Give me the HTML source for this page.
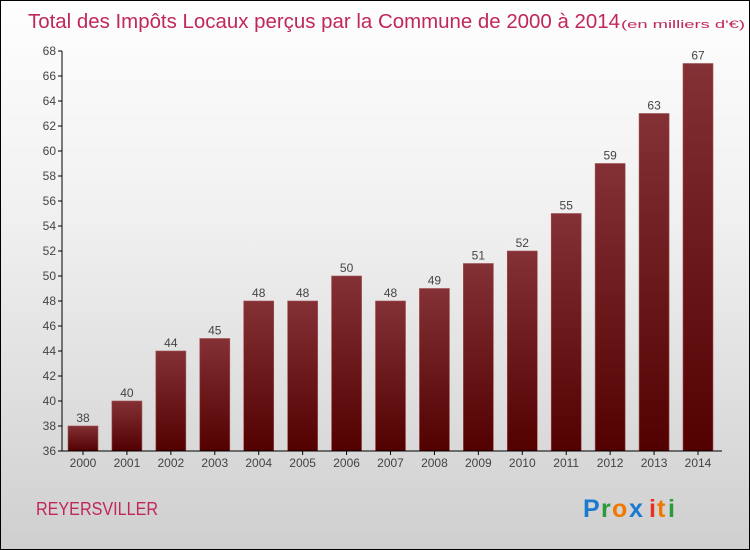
<!DOCTYPE html>
<html><head><meta charset="utf-8"><style>
body{margin:0}
#wrap{position:relative;width:748px;height:548px;border:1px solid #000;background:linear-gradient(#fefefe,#f0f0f0 40%,#cfcfcf);overflow:hidden;font-family:"Liberation Sans",sans-serif}
</style></head><body>
<div id="wrap">
<svg id="chart" width="748" height="548">
<defs><linearGradient id="bg" x1="0" y1="0" x2="0" y2="1"><stop offset="0" stop-color="#843136"/><stop offset="1" stop-color="#520000"/></linearGradient></defs>
<text x="27" y="27" font-size="20" fill="#c0275a" textLength="592" lengthAdjust="spacingAndGlyphs">Total des Impôts Locaux perçus par la Commune de 2000 à 2014</text>
<text x="620" y="27" font-size="11" fill="#c0275a" textLength="124" lengthAdjust="spacingAndGlyphs">(en milliers d'€)</text>
<text x="35" y="514" font-size="18" fill="#c0275a" textLength="122" lengthAdjust="spacingAndGlyphs">REYERSVILLER</text>
<g font-size="25" font-weight="bold">
<text x="582" y="516" fill="#1a7ad0">P</text><text x="600" y="516" fill="#2a9a3a">r</text><text x="611" y="516" fill="#f07800">o</text><text x="628" y="516" fill="#1a7ad0">x</text><text x="648" y="516" fill="#e83020">i</text><text x="656" y="516" fill="#f07800">t</text><text x="667" y="516" fill="#2a9a3a">i</text>
</g>
<g id="g"></g>
</svg>
</div>
<script>
const years=["2000","2001","2002","2003","2004","2005","2006","2007","2008","2009","2010","2011","2012","2013","2014"];
const values=[38,40,44,45,48,48,50,48,49,51,52,55,59,63,67];
const yTicks=[36,38,40,42,44,46,48,50,52,54,56,58,60,62,64,66,68];
const NS="http://www.w3.org/2000/svg",g=document.getElementById('g');
const y0=36,y1=68,pTop=50,pBot=450,ax=61,ax2=721;
const ys=v=>pBot-(v-y0)/(y1-y0)*(pBot-pTop);
const step=(698-83)/(years.length-1);
const xs=i=>82+step*i;
function mk(t,a,txt){const e=document.createElementNS(NS,t);for(const k in a)e.setAttribute(k,a[k]);if(txt!=null)e.textContent=txt;g.appendChild(e);return e;}
values.forEach((v,i)=>{
 const b=mk('rect',{x:xs(i)-15,y:ys(v),width:30,height:pBot-ys(v),fill:'url(#bg)',stroke:'#a05050','stroke-width':0.6});
 
 
 const l=mk('text',{x:xs(i),y:ys(v)-4,'text-anchor':'middle','font-size':12,fill:'#444'},String(v));
 
 
 const xl=mk('text',{x:xs(i),y:pBot+16,'text-anchor':'middle','font-size':12,fill:'#444'},years[i]);
 
 
 mk('line',{x1:xs(i),x2:xs(i),y1:pBot,y2:pBot+4,stroke:'#000'});
});
yTicks.forEach(t=>{
 mk('line',{x1:ax-4,x2:ax,y1:ys(t),y2:ys(t),stroke:'#000'});
 const l=mk('text',{x:ax-6,y:ys(t)+4,'text-anchor':'end','font-size':12,fill:'#444'},String(t));
 
 
});
const ya=mk('line',{x1:ax,x2:ax,y1:pTop,y2:pBot,stroke:'#000'});


const xa=mk('line',{x1:ax,x2:ax2,y1:pBot,y2:pBot,stroke:'#000'});


</script>
</body></html>
